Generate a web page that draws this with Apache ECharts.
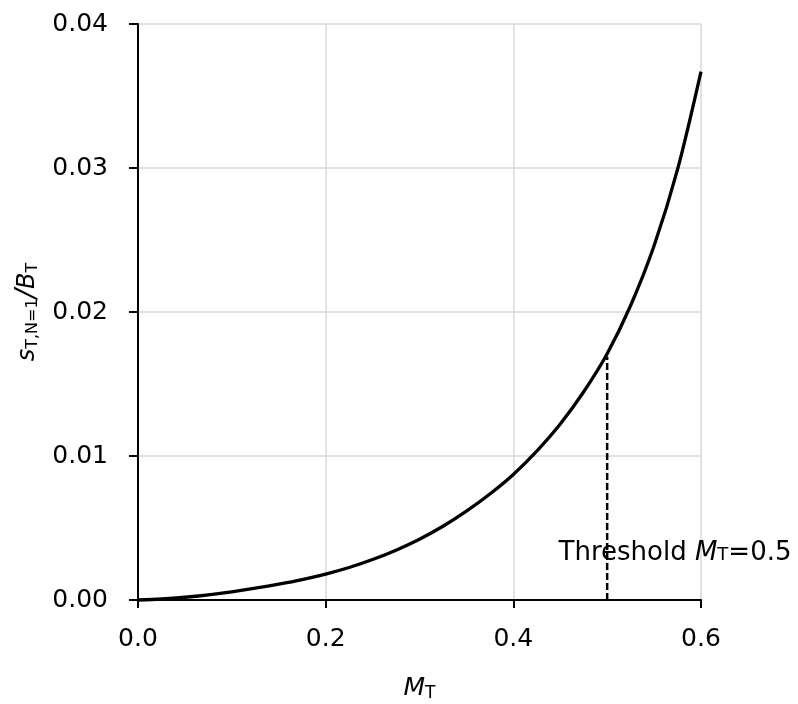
<!DOCTYPE html>
<html>
<head>
<meta charset="utf-8">
<script src="https://cdn.jsdelivr.net/npm/echarts@6/dist/echarts.min.js"></script>
<style>
html,body{margin:0;padding:0;background:#fff;}
#chart{width:798px;height:704px;}
</style>
</head>
<body>
<div id="chart"></div>
<script>
// ---- data ----
const mValues = [0, 0.025, 0.05, 0.075, 0.1, 0.125, 0.15, 0.175, 0.2, 0.225, 0.25, 0.275, 0.3, 0.325, 0.35, 0.375, 0.4, 0.425, 0.45, 0.475, 0.5, 0.525, 0.55, 0.575, 0.6];
const sValues = [0, 0.00007, 0.00019, 0.00036, 0.00057, 0.00082, 0.00110, 0.00142, 0.00180, 0.00226, 0.00281, 0.00346, 0.00422, 0.00512, 0.00617, 0.00736, 0.00872, 0.01034, 0.01222, 0.01446, 0.01710, 0.02045, 0.02460, 0.02990, 0.03670];
const thresholdX = [0.5, 0.5];
const thresholdY = [0, 0.0169];
const annotationPos = [0.5723, 0.00326];
const xTickLabelsDigits = 1;
const yTickLabelsDigits = 2;

const FONT = 'DejaVu Sans';
const curve = mValues.map((m, i) => [m, sValues[i]]);
const dashed = thresholdX.map((x, i) => [x, thresholdY[i]]);

const chart = echarts.init(document.getElementById('chart'), null, {renderer: 'canvas'});
chart.setOption({
  backgroundColor: '#fff',
  animation: false,
  grid: {left: 138, right: 97, top: 24, bottom: 104, containLabel: false, outerBoundsMode: 'none'},
  xAxis: {
    type: 'value', min: 0, max: 0.6, interval: 0.2,
    name: '{i|M}{s|T}', nameLocation: 'middle', nameGap: 75,
    nameTextStyle: {
      rich: {
        i: {fontFamily: FONT, fontSize: 25, fontStyle: 'italic', color: '#000'},
        s: {fontFamily: FONT, fontSize: 17, color: '#000', padding: [10, 0, 0, 0]}
      }
    },
    axisLine: {show: true, onZero: true, lineStyle: {color: '#000', width: 2}},
    axisTick: {show: true, inside: false, length: 8, lineStyle: {color: '#000', width: 2}},
    axisLabel: {margin: 27, color: '#000', fontFamily: FONT, fontSize: 25,
      formatter: v => v.toFixed(xTickLabelsDigits)},
    splitLine: {show: true, lineStyle: {color: '#d9d9d9', width: 1.5}}
  },
  yAxis: {
    type: 'value', min: 0, max: 0.04, interval: 0.01,
    name: '{i|s}{s|T,N=1}{sl|/}{i|B}{s|T}', nameLocation: 'middle', nameGap: 94, nameRotate: 90,
    nameTextStyle: {
      rich: {
        i: {fontFamily: FONT, fontSize: 24, fontStyle: 'italic', color: '#000'},
        sl: {fontFamily: FONT, fontSize: 28, fontStyle: 'italic', color: '#000'},
        s: {fontFamily: FONT, fontSize: 16, color: '#000', padding: [10, 0, 0, 0]}
      }
    },
    axisLine: {show: true, lineStyle: {color: '#000', width: 2}},
    axisTick: {show: true, inside: false, length: 9, lineStyle: {color: '#000', width: 2}},
    axisLabel: {margin: 30, color: '#000', fontFamily: FONT, fontSize: 25,
      formatter: v => v.toFixed(yTickLabelsDigits)},
    splitLine: {show: true, lineStyle: {color: '#d9d9d9', width: 1.5}}
  },
  series: [
    {
      type: 'line', data: curve, smooth: 0.3,
      showSymbol: false, symbol: 'none', clip: false,
      lineStyle: {color: '#000', width: 3.3}
    },
    {
      type: 'line', data: dashed, showSymbol: false, symbol: 'none',
      lineStyle: {color: '#000', width: 2.5, type: [7, 3]}
    },
    {
      type: 'scatter', data: [annotationPos], symbolSize: 0,
      itemStyle: {color: '#000'},
      label: {
        show: true, position: 'inside', color: '#000', textBorderWidth: 0, opacity: 1,
        formatter: '{n|Threshold }{i|M}{t|T}{n|=0.5}',
        rich: {
          n: {fontFamily: FONT, fontSize: 26, color: '#000', textBorderWidth: 0},
          i: {fontFamily: FONT, fontSize: 26, fontStyle: 'italic', color: '#000', textBorderWidth: 0},
          t: {fontFamily: FONT, fontSize: 18, color: '#000', textBorderWidth: 0, padding: [4, 0, 0, 0]}
        }
      }
    }
  ]
});
</script>
</body>
</html>
